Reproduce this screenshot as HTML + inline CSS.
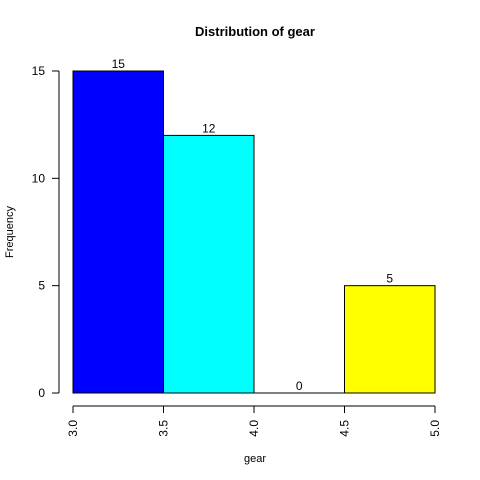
<!DOCTYPE html>
<html><head><meta charset="utf-8"><style>body{margin:0;background:#fff}svg{display:block;font-family:"Liberation Sans",Arial,sans-serif}</style></head>
<body>
<svg id="c" width="480" height="480">
<text x="255" y="36" text-anchor="middle" font-weight="bold" font-size="13">Distribution of gear</text>
<text x="0" y="0" transform="translate(13,232) rotate(-90)" text-anchor="middle" font-size="11">Frequency</text>
<text x="255" y="462" text-anchor="middle" font-size="11">gear</text>
</svg>
<script>
const binEdges=[3.0,3.5,4.0,4.5,5.0];
const counts=[15,12,0,5];
const colors=['#0000ff','#00ffff','#ff0000','#ffff00'];
const xTicks=[3.0,3.5,4.0,4.5,5.0];
const xTickLabels=['3.0','3.5','4.0','4.5','5.0'];
const yTicks=[0,5,10,15];
const NS='http://www.w3.org/2000/svg';
const svg=document.getElementById('c');
const xs=v=>73+(v-3)/2*362;
const ys=v=>393-v*(322/15);
function mk(t,a,p){const e=document.createElementNS(NS,t);for(const k in a)e.setAttribute(k,a[k]);(p||svg).appendChild(e);return e;}
counts.forEach((c,i)=>{
 const x0=xs(binEdges[i]),x1=xs(binEdges[i+1]);
 if(c>0){const r=mk('rect',{x:x0,y:ys(c),width:x1-x0,height:ys(0)-ys(c),fill:colors[i],stroke:'#000','stroke-width':1});
 
 }
 else{const l=mk('line',{x1:x0,x2:x1,y1:ys(0),y2:ys(0),stroke:'#000'});
 
 }
 const t=mk('text',{x:(x0+x1)/2,y:ys(c)-3,'text-anchor':'middle','font-size':12});
 t.textContent=c;
 
 
});
const ya=mk('line',{x1:59,x2:59,y1:ys(0),y2:ys(15),stroke:'#000'});


yTicks.forEach(v=>{
 mk('line',{x1:52,x2:59,y1:ys(v),y2:ys(v),stroke:'#000'});
 const t=mk('text',{x:45,y:ys(v)+4,'text-anchor':'end','font-size':12});
 t.textContent=v;
 
 
});
const xa=mk('line',{x1:xs(3),x2:xs(5),y1:406,y2:406,stroke:'#000'});


xTicks.forEach((v,i)=>{
 mk('line',{x1:xs(v),x2:xs(v),y1:406,y2:413,stroke:'#000'});
 const t=mk('text',{transform:`translate(${xs(v)+4},420) rotate(-90)`,'text-anchor':'end','font-size':12});
 t.textContent=xTickLabels[i];
 
 
});
</script>
</body></html>
